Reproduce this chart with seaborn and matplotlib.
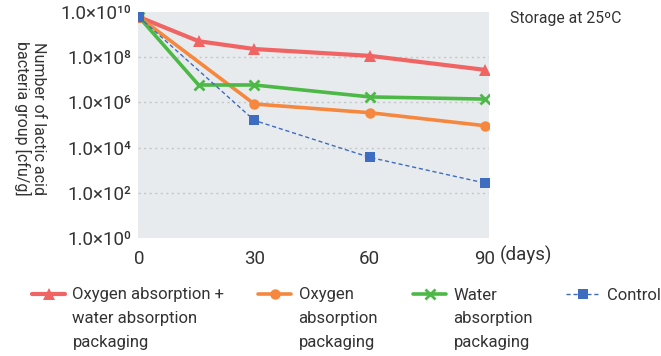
import matplotlib
matplotlib.use("Agg")
import matplotlib.pyplot as plt
import seaborn as sns
import pandas as pd
import numpy as np

# ---- data ----
days_red = [0, 15.5, 30, 60, 90]
vals_red = [6.0e9, 5.1e8, 2.3e8, 1.15e8, 2.75e7]
days_orange = [0, 30, 60, 90]
vals_orange = [6.0e9, 8.5e5, 3.5e5, 9.3e4]
days_green = [0, 15.5, 30, 60, 90]
vals_green = [6.0e9, 5.9e6, 5.9e6, 1.75e6, 1.4e6]
days_blue = [0, 30, 60, 90]
vals_blue = [6.0e9, 1.6e5, 3.7e3, 2.7e2]

labels = ["Oxygen absorption +\nwater absorption\npackaging",
          "Oxygen\nabsorption\npackaging",
          "Water\nabsorption\npackaging",
          "Control"]
x_ticks = [0, 30, 60, 90]
y_exps = [0, 2, 4, 6, 8, 10]
sup = {0: "⁰", 2: "²", 4: "⁴", 6: "⁶", 8: "⁸", 10: "¹⁰"}

sns.set_style("white")
plt.rcParams["font.family"] = ["Roboto", "DejaVu Sans"]

W, H = 661, 356
fig = plt.figure(figsize=(W / 100, H / 100), dpi=100)
ax = fig.add_axes([138 / W, 1 - 238 / H, 351 / W, 226 / H])
ax.set_facecolor("#e8ebee")

c_red = "#f06464"
c_orange = "#f5883e"
c_green = "#4cb946"
c_blue = "#3e6cc0"

sns.lineplot(x=days_red, y=vals_red, ax=ax, color=c_red, lw=3, marker="^",
             markersize=9, markeredgewidth=0, markeredgecolor=c_red, label=labels[0])
sns.lineplot(x=days_orange, y=vals_orange, ax=ax, color=c_orange, lw=2.6, marker="o",
             markersize=7.5, markeredgewidth=0, markeredgecolor=c_orange, label=labels[1])
sns.lineplot(x=days_green, y=vals_green, ax=ax, color=c_green, lw=2.6, marker="x",
             markersize=7, markeredgewidth=2, markeredgecolor=c_green, label=labels[2])
sns.lineplot(x=days_blue, y=vals_blue, ax=ax, color=c_blue, lw=1, linestyle=(0, (3, 2)),
             marker="s", markersize=6.5, markeredgewidth=0, markeredgecolor=c_blue,
             label=labels[3])

ax.set_yscale("log")
ax.set_ylim(1, 1e10)
ax.set_xlim(-0.26, 91.04)

ax.set_yticks([10.0 ** e for e in y_exps])
ax.set_yticklabels(["1.0×10" + sup[e] for e in y_exps])
ax.yaxis.set_minor_locator(matplotlib.ticker.NullLocator())
ax.set_xticks(x_ticks)
ax.set_xticklabels([str(t) for t in x_ticks])

for e in y_exps[1:-1]:
    ax.axhline(10.0 ** e, color="#c4c6c8", lw=1, ls=(0, (1.5, 2.5)), zorder=0.5)

ax.tick_params(axis="y", length=0, pad=5, labelsize=13.5, labelcolor="#333333")
ax.tick_params(axis="x", direction="in", length=5, width=1, color="#888888",
               pad=9, labelsize=13.5, labelcolor="#333333")
xt = ax.xaxis.get_major_ticks()
xt[0].tick1line.set_visible(False)
xt[-1].tick1line.set_visible(False)

for s in ax.spines.values():
    s.set_visible(False)

ax.set_xlabel("")
ax.set_ylabel("")
fig.text(30 / W, 1 - 118 / H, "Number of lactic acid\nbacteria group [cfu/g]",
         rotation=270, ha="center", va="center", fontsize=11.5, color="#333333",
         linespacing=1.05)
fig.text(500 / W, 1 - 255 / H, "(days)", ha="left", va="center", fontsize=13.5,
         color="#333333")
fig.text(510 / W, 1 - 18 / H, "Storage at 25ºC", ha="left", va="center", fontsize=11.3,
         color="#333333")

# ---- legend: one entry per column, handle aligned with first text line ----
handles, labs = ax.get_legend_handles_labels()
ax.legend_.remove()
fs = 12
em = fs * 100 / 72
handle_x = [32, 258, 413, 566]
handle_len = [33, 33, 33, 34]
row_y = [295, 319, 343]
for h, lab, hx, hl in zip(handles, labs, handle_x, handle_len):
    lines = lab.split("\n")
    leg = fig.legend([h], [lines[0]], loc="center left",
                     bbox_to_anchor=(hx / W, 1 - row_y[0] / H), frameon=False,
                     fontsize=fs, handlelength=hl / em, handletextpad=7.5 / em,
                     borderaxespad=0, borderpad=0)
    leg.get_texts()[0].set_color("#333333")
    tx = hx + hl + 7.5
    for k, line in enumerate(lines[1:], start=1):
        fig.text(tx / W, 1 - row_y[k] / H, line, ha="left", va="center",
                 fontsize=fs, color="#333333")

fig.savefig("out.png", dpi=100)
